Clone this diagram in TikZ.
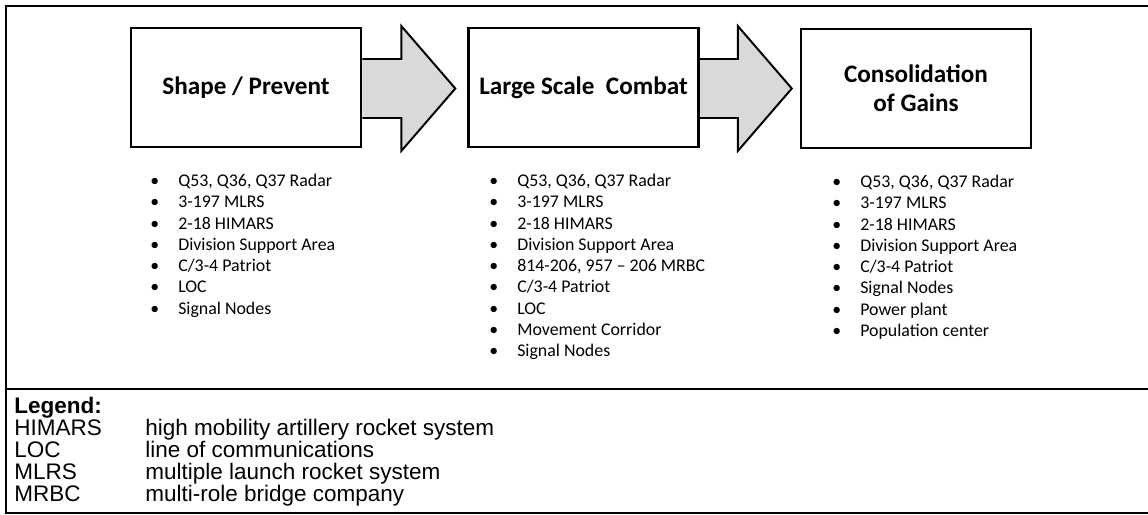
\documentclass[tikz,border=0pt]{standalone}
\usepackage{fontspec}
\setmainfont{Carlito}
\newfontfamily\legendfont{Liberation Sans}
\usetikzlibrary{calc,backgrounds}
\newcommand{\bul}{\makebox[0.7cm][l]{\textbullet}}

\begin{document}
\begin{tikzpicture}[x=0.025cm,y=-0.025cm,
  stage/.style={draw,line width=1.8pt,minimum width=5.75cm,minimum height=2.975cm,align=center,font=\fontsize{17.9}{20.6}\selectfont\bfseries},
  blockarrow/.style={draw,line width=1.4pt,fill=black!15,line join=miter},
  item/.style={anchor=base west,inner sep=0pt,font=\fontsize{12.7}{15}\selectfont},
  legterm/.style={anchor=base west,inner sep=0pt,font=\legendfont\fontsize{16}{19}\selectfont},
  boxrule/.style={line width=2.1pt}]
\useasboundingbox (0,0) rectangle (1148,514);
% outer frame
\draw[boxrule] (6,514) -- (6,6) -- (1150,6);
\draw[boxrule] (6,389) -- (1150,389);
\draw[line width=1pt] (6,513) -- (1150,513);
% phases
\node[stage] (shape) at (246,87.5) {Shape / Prevent};
\node[stage] (combat) at (583.5,87.5) {Large Scale\ \ Combat};
\node[stage] (gains) at (916,88.5) {Consolidation\\of Gains};
% block arrows
\coordinate (a1) at ($(shape.east)+(0,1)$);
\coordinate (a2) at ($(combat.east)+(0,1)$);
\begin{scope}[on background layer]
\draw[blockarrow] ($(a1)+(0,-29.5)$) -- ++(39,0) -- ++(0,-33) -- ($(a1)+(93,0)$) -- ($(a1)+(39,62.5)$) -- ++(0,-33) -- ($(a1)+(0,29.5)$);
\draw[blockarrow] ($(a2)+(0,-29.5)$) -- ++(38,0) -- ++(0,-33) -- ($(a2)+(92,0)$) -- ($(a2)+(38,62.5)$) -- ++(0,-33) -- ($(a2)+(0,29.5)$);
\end{scope}
% shape / prevent
\node[item] (sp1) at (150,186) {\bul Q53, Q36, Q37 Radar};
\node[item] (sp2) at (150,207) {\bul 3-197 MLRS};
\node[item] (sp3) at (150,229) {\bul 2-18 HIMARS};
\node[item] (sp4) at (150,250) {\bul Division Support Area};
\node[item] (sp5) at (150,271) {\bul C/3-4 Patriot};
\node[item] (sp6) at (150,292) {\bul LOC};
\node[item] (sp7) at (150,314) {\bul Signal Nodes};
% large scale combat
\node[item] (lc1) at (489,186) {\bul Q53, Q36, Q37 Radar};
\node[item] (lc2) at (489,207) {\bul 3-197 MLRS};
\node[item] (lc3) at (489,229) {\bul 2-18 HIMARS};
\node[item] (lc4) at (489,250) {\bul Division Support Area};
\node[item] (lc5) at (489,271) {\bul 814-206, 957 – 206 MRBC};
\node[item] (lc6) at (489,292) {\bul C/3-4 Patriot};
\node[item] (lc7) at (489,314) {\bul LOC};
\node[item] (lc8) at (489,335) {\bul Movement Corridor};
\node[item] (lc9) at (489,356) {\bul Signal Nodes};
% consolidation of gains
\node[item] (cg1) at (832,187) {\bul Q53, Q36, Q37 Radar};
\node[item] (cg2) at (832,208) {\bul 3-197 MLRS};
\node[item] (cg3) at (832,230) {\bul 2-18 HIMARS};
\node[item] (cg4) at (832,251) {\bul Division Support Area};
\node[item] (cg5) at (832,272) {\bul C/3-4 Patriot};
\node[item] (cg6) at (832,293) {\bul Signal Nodes};
\node[item] (cg7) at (832,315) {\bul Power plant};
\node[item] (cg8) at (832,336) {\bul Population center};
% legend
\node[legterm] (leg) at (14,413) {\bfseries Legend:};
\node[legterm] (himars) at (14,435) {HIMARS};
\node[legterm] (loc) at (14,457) {LOC};
\node[legterm] (mlrs) at (14,479) {MLRS};
\node[legterm] (mrbc) at (14,501) {MRBC};
\node[legterm] (himarsdef) at (145,435) {high mobility artillery rocket system};
\node[legterm] (locdef) at (145,457) {line of communications};
\node[legterm] (mlrsdef) at (145,479) {multiple launch rocket system};
\node[legterm] (mrbcdef) at (145,501) {multi-role bridge company};
\end{tikzpicture}
\end{document}
